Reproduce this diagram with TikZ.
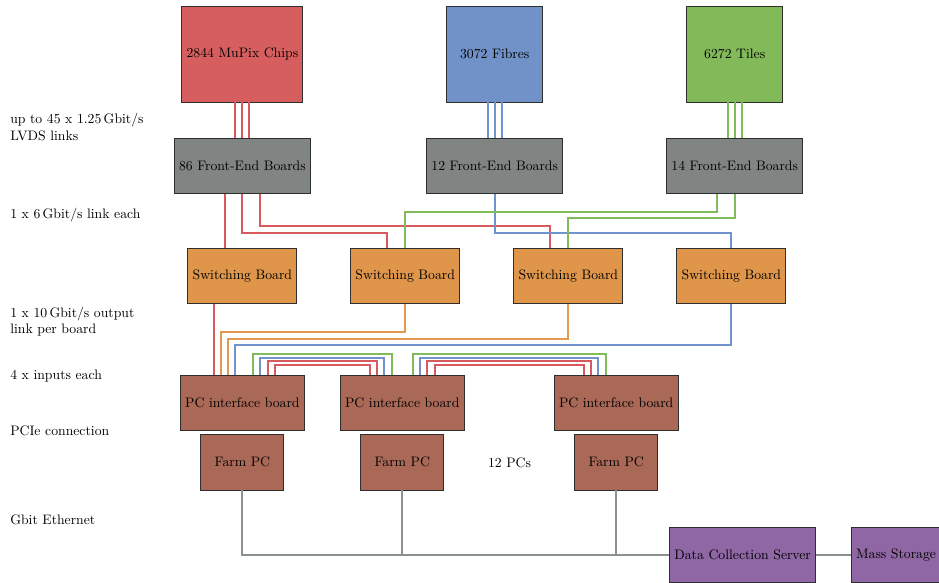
\documentclass[tikz,border=0pt]{standalone}
\usetikzlibrary{calc}

% fills of the boxes
\definecolor{mupixfill}{HTML}{D65E5E}
\definecolor{fibrefill}{HTML}{7092C9}
\definecolor{tilefill}{HTML}{82BA5A}
\definecolor{febfill}{HTML}{808583}
\definecolor{sbfill}{HTML}{E0964A}
\definecolor{pcfill}{HTML}{AA6857}
\definecolor{dcsfill}{HTML}{8F67A5}
\definecolor{boxline}{HTML}{2E2E2E}
% link colours
\definecolor{redl}{HTML}{D95A5E}
\definecolor{bluel}{HTML}{7092CD}
\definecolor{greenl}{HTML}{80BC5A}
\definecolor{orangel}{HTML}{E39A4E}
\definecolor{grayl}{HTML}{8B918F}

\begin{document}
\begin{tikzpicture}[x=0.75pt,y=-0.75pt,
  every node/.style={font=\fontsize{10.3pt}{12.4pt}\selectfont},
  box/.style={draw=boxline, line width=0.7pt, inner sep=0pt, align=center},
  boxsize/.style 2 args={minimum width=#1*0.75pt, minimum height=#2*0.75pt},
  link/.style={line width=1.5pt},
  eth/.style={line width=1.5pt, draw=grayl},
  lbl/.style={anchor=west, inner sep=0pt, align=left}]
\useasboundingbox (0,0) rectangle (939,582);

% detectors
\node[box, fill=mupixfill, boxsize={121}{96}] (mupix)  at (242.4,54) {2844 MuPix Chips};
\node[box, fill=fibrefill, boxsize={96}{96}]  (fibres) at (494.7,54) {3072 Fibres};
\node[box, fill=tilefill,  boxsize={96}{96}]  (tiles)  at (734.7,54) {6272 Tiles};

% front-end boards
\node[box, fill=febfill, boxsize={136}{55}] (feb1) at (242.4,166) {86 Front-End Boards};
\node[box, fill=febfill, boxsize={136}{55}] (feb2) at (494.7,166) {12 Front-End Boards};
\node[box, fill=febfill, boxsize={136}{55}] (feb3) at (734.7,166) {14 Front-End Boards};

% switching boards
\node[box, fill=sbfill, boxsize={109}{55}] (sb1) at (242.4,275.7) {Switching Board};
\node[box, fill=sbfill, boxsize={109}{55}] (sb2) at (405.2,275.7) {Switching Board};
\node[box, fill=sbfill, boxsize={109}{55}] (sb3) at (568.3,275.7) {Switching Board};
\node[box, fill=sbfill, boxsize={109}{55}] (sb4) at (731.4,275.7) {Switching Board};

% PC interface boards and farm PCs
\node[box, fill=pcfill, boxsize={124}{55}] (pc1) at (242.4,402.5) {PC interface board};
\node[box, fill=pcfill, boxsize={124}{55}] (pc2) at (402.3,402.5) {PC interface board};
\node[box, fill=pcfill, boxsize={124}{55}] (pc3) at (616.2,402.5) {PC interface board};
\node[box, fill=pcfill, boxsize={83}{56}] (farm1) at (242.4,462) {Farm PC};
\node[box, fill=pcfill, boxsize={83}{56}] (farm2) at (402.3,462) {Farm PC};
\node[box, fill=pcfill, boxsize={83}{56}] (farm3) at (616.2,462) {Farm PC};
\node (pcs) at (509.5,463) {12 PCs};

% storage
\node[box, fill=dcsfill, boxsize={146}{55}] (dcs) at (742.6,555) {Data Collection Server};
\node[box, fill=dcsfill, boxsize={89}{55}]  (ms)  at (896,555) {Mass Storage};

% LVDS links from the detectors
\foreach \k in {-7,0,7} {
  \draw[link, redl]   ($(mupix.south)+(\k,0)$)  -- ($(feb1.north)+(\k,0)$);
  \draw[link, bluel]  ($(fibres.south)+(\k,0)$) -- ($(feb2.north)+(\k,0)$);
  \draw[link, greenl] ($(tiles.south)+(\k,0)$)  -- ($(feb3.north)+(\k,0)$);
}

% optical links front-end -> switching
\draw[link, redl] ($(feb1.south)+(-17.6,0)$) -- ($(sb1.north)+(-17.6,0)$);
\draw[link, redl] (feb1.south) -- (feb1.south |- 0,233.3) -| ($(sb2.north)+(-18,0)$);
\draw[link, redl] ($(feb1.south)+(17.6,0)$) coordinate (f1c) -- (f1c |- 0,225.7) -| ($(sb3.north)+(-18,0)$);
\draw[link, bluel] (feb2.south) -- (feb2.south |- 0,233.3) -| (sb4.north);
\draw[link, greenl] ($(feb3.south)+(-17.7,0)$) coordinate (f3a) -- (f3a |- 0,211.7) -| (sb2.north);
\draw[link, greenl] (feb3.south) -- (feb3.south |- 0,218.3) -| (sb3.north);

% output links switching -> PC interface boards
\draw[link, redl] ($(sb1.south)+(-28.6,0)$) -- ($(pc1.north)+(-28.6,0)$);
\draw[link, orangel] (sb2.south) -- (sb2.south |- 0,332.3) -| ($(pc1.north)+(-21.4,0)$);
\draw[link, orangel] (sb3.south) -- (sb3.south |- 0,339) -| ($(pc1.north)+(-14.3,0)$);
\draw[link, bluel] (sb4.south) -- (sb4.south |- 0,345.3) -| ($(pc1.north)+(-7.1,0)$);

% daisy chain between the PC interface boards
\foreach \a/\b in {pc1/pc2, pc2/pc3} {
  \draw[link, greenl] ($(\a.north)+(10.6,0)$) -- ++(0,-20.7) -| ($(\b.north)+(-10.6,0)$);
  \draw[link, bluel]  ($(\a.north)+(17.9,0)$) -- ++(0,-17)   -| ($(\b.north)+(-17.9,0)$);
  \draw[link, redl]   ($(\a.north)+(25.1,0)$) -- ++(0,-13.3) -| ($(\b.north)+(-25.1,0)$);
  \draw[link, redl]   ($(\a.north)+(32.3,0)$) -- ++(0,-9.7)  -| ($(\b.north)+(-32.3,0)$);
}

% Gbit Ethernet
\draw[eth] (farm1.south) |- (dcs.west);
\draw[eth] (farm2.south) -- (farm2.south |- dcs.west);
\draw[eth] (farm3.south) -- (farm3.south |- dcs.west);
\draw[eth] (dcs.east) -- (ms.west);

% layer annotations
\node[lbl] (l1) at (10,127)   {up to 45 x 1.25\,Gbit/s\\LVDS links};
\node[lbl] (l2) at (10,215)   {1 x 6\,Gbit/s link each};
\node[lbl] (l3) at (10,321.5) {1 x 10\,Gbit/s output\\link per board};
\node[lbl] (l4) at (10,376)   {4 x inputs each};
\node[lbl] (l5) at (10,431)   {PCIe connection};
\node[lbl] (l6) at (10,520)   {Gbit Ethernet};
\end{tikzpicture}
\end{document}
